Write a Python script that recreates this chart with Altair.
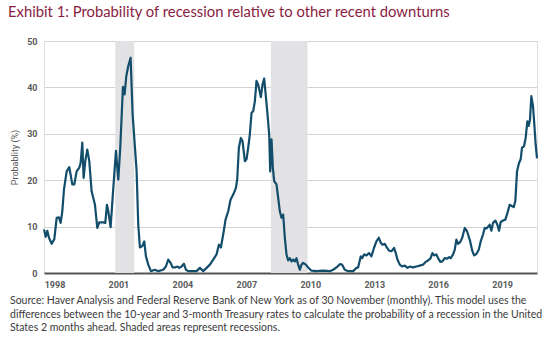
import altair as alt
import pandas as pd

# Time axis position (fractional year) and recession probability (%)
years = [
    1997.508, 1997.586, 1997.664, 1997.742, 1997.867, 1997.992, 1998.102, 1998.211, 1998.289, 1998.367,
    1998.445, 1998.571, 1998.695, 1998.836, 1998.930, 1999.039, 1999.164, 1999.227, 1999.305, 1999.367,
    1999.445, 1999.539, 1999.633, 1999.742, 1999.899, 2000.008, 2000.102, 2000.289, 2000.383, 2000.461,
    2000.524, 2000.633, 2000.727, 2000.883, 2000.993, 2001.086, 2001.211, 2001.290, 2001.368, 2001.461,
    2001.571, 2001.665, 2001.852, 2001.930, 2002.008, 2002.118, 2002.211, 2002.290, 2002.399, 2002.524,
    2002.712, 2002.868, 2003.102, 2003.227, 2003.337, 2003.446, 2003.540, 2003.649, 2003.774, 2003.852,
    2003.962, 2004.071, 2004.165, 2004.274, 2004.509, 2004.665, 2004.821, 2004.977, 2005.134, 2005.290,
    2005.446, 2005.603, 2005.712, 2005.806, 2005.915, 2006.025, 2006.150, 2006.259, 2006.384, 2006.509,
    2006.571, 2006.650, 2006.743, 2006.822, 2006.931, 2007.009, 2007.087, 2007.165, 2007.244, 2007.322,
    2007.400, 2007.478, 2007.556, 2007.681, 2007.759, 2007.837, 2007.915, 2007.994, 2008.072, 2008.119,
    2008.181, 2008.244, 2008.306, 2008.416, 2008.494, 2008.572, 2008.650, 2008.728, 2008.806, 2008.885,
    2008.963, 2009.041, 2009.119, 2009.197, 2009.275, 2009.353, 2009.431, 2009.510, 2009.588, 2009.666,
    2009.791, 2009.900, 2010.057, 2010.291, 2010.604, 2010.916, 2011.072, 2011.229, 2011.385, 2011.494,
    2011.619, 2011.775, 2012.010, 2012.166, 2012.244, 2012.369, 2012.432, 2012.525, 2012.635, 2012.760,
    2012.869, 2012.994, 2013.104, 2013.213, 2013.307, 2013.385, 2013.494, 2013.588, 2013.697, 2013.807,
    2013.932, 2014.010, 2014.088, 2014.198, 2014.307, 2014.432, 2014.557, 2014.682, 2014.823, 2014.979,
    2015.135, 2015.291, 2015.416, 2015.526, 2015.635, 2015.729, 2015.807, 2015.917, 2015.995, 2016.104,
    2016.198, 2016.307, 2016.417, 2016.511, 2016.589, 2016.698, 2016.776, 2016.854, 2016.932, 2017.042,
    2017.136, 2017.245, 2017.354, 2017.480, 2017.605, 2017.683, 2017.792, 2017.902, 2017.995, 2018.105,
    2018.183, 2018.261, 2018.370, 2018.417, 2018.495, 2018.573, 2018.683, 2018.777, 2018.855, 2018.933,
    2019.042, 2019.152, 2019.246, 2019.355, 2019.433, 2019.542, 2019.620, 2019.698, 2019.792, 2019.870,
    2019.933, 2020.026, 2020.104, 2020.183, 2020.245, 2020.308, 2020.370, 2020.448, 2020.511, 2020.573,
    2020.636,
]
prob = [
    9.4, 7.8, 9.1, 7.6, 6.3, 7.3, 11.9, 12.0, 10.8, 13.3,
    18.0, 21.9, 22.8, 19.1, 19.1, 21.9, 22.7, 23.7, 28.1, 20.5,
    24.1, 26.6, 24.1, 17.6, 14.7, 9.7, 10.9, 10.9, 10.8, 14.7,
    13.3, 9.9, 16.2, 26.3, 20.1, 27.0, 40.1, 38.5, 42.4, 44.6,
    46.4, 34.2, 22.0, 10.4, 5.5, 5.8, 6.8, 3.6, 1.8, 0.4,
    0.7, 0.4, 0.7, 1.4, 2.9, 2.2, 1.2, 1.2, 1.4, 1.1,
    1.4, 2.0, 0.7, 0.4, 0.4, 0.4, 1.1, 0.4, 1.1, 1.8,
    2.9, 4.0, 6.1, 5.5, 8.3, 11.5, 13.3, 15.8, 16.9, 18.3,
    20.1, 27.0, 29.1, 28.4, 24.1, 24.5, 27.0, 29.9, 34.5, 34.9,
    37.0, 41.4, 40.6, 37.9, 40.6, 41.9, 38.1, 34.2, 29.9, 21.9,
    28.8, 22.7, 19.8, 19.1, 16.2, 13.3, 11.9, 12.6, 7.6, 4.0,
    2.7, 3.2, 2.5, 2.9, 2.5, 3.2, 1.8, 0.7, 1.8, 2.2,
    1.8, 1.2, 0.5, 0.4, 0.5, 0.4, 0.7, 1.2, 1.9, 1.8,
    0.7, 0.4, 0.4, 1.1, 1.2, 3.6, 3.2, 4.0, 3.8, 4.3,
    3.6, 5.5, 6.8, 7.6, 6.5, 6.1, 6.3, 5.5, 4.8, 4.7,
    5.4, 4.3, 2.9, 1.8, 1.4, 1.6, 1.1, 1.4, 1.2, 1.4,
    1.6, 1.8, 2.4, 2.7, 3.1, 4.3, 3.8, 4.0, 3.2, 2.4,
    2.5, 3.2, 3.1, 3.4, 3.2, 4.0, 5.0, 7.2, 6.3, 6.7,
    7.7, 9.7, 9.0, 7.2, 4.7, 3.8, 4.1, 5.0, 6.8, 8.3,
    9.7, 9.6, 10.1, 10.4, 9.1, 10.8, 11.3, 10.4, 9.1, 11.0,
    11.3, 11.5, 12.9, 14.7, 14.5, 14.2, 15.5, 21.9, 23.7, 24.5,
    27.0, 27.3, 29.1, 32.7, 31.7, 33.1, 38.1, 36.0, 32.0, 27.7,
    24.7,
]

# Shaded recessions (same time axis)
rec_start = [2000.850, 2008.150]
rec_end = [2001.741, 2009.871]

x_tick_years = [1998, 2001, 2004, 2007, 2010, 2013, 2016, 2019]
y_ticks = [0, 10, 20, 30, 40, 50]

title_text = "Exhibit 1: Probability of recession relative to other recent downturns"
y_title = "Probablity (%)"
footer_lines = [
    "Source: Haver Analysis and Federal Reserve Bank of New York as of 30 November (monthly). This model uses the",
    "differences between the 10-year and 3-month Treasury rates to calculate the probability of a recession in the United",
    "States 2 months ahead. Shaded areas represent recessions.",
]

df = pd.DataFrame({"year": years, "prob": prob})
rec = pd.DataFrame({"start": rec_start, "end": rec_end})
one = pd.DataFrame({"k": [0]})

LINE = "#124d6b"
AXIS_FONT = "Roboto"
TEXT_FONT = "Lato"

xscale = alt.Scale(domain=[1997.508, 2020.636], nice=False, zero=False)
yscale = alt.Scale(domain=[0, 50], nice=False, zero=True)

x_axis = alt.Axis(
    values=x_tick_years, format="d", title=None, grid=False, ticks=False,
    domain=True, domainColor="#555555", domainWidth=2,
    labelFont=AXIS_FONT, labelFontSize=9, labelFontWeight="bold", labelColor="#5a5a5a",
    labelPadding=7, labelFlush=False,
)

bands = alt.Chart(rec).mark_rect(color="#e2e2e4").encode(
    x=alt.X("start:Q", scale=xscale, axis=x_axis),
    x2="end:Q",
)

line = alt.Chart(df).mark_line(color=LINE, strokeWidth=2.2, strokeJoin="round").encode(
    x=alt.X("year:Q", scale=xscale, axis=x_axis),
    y=alt.Y(
        "prob:Q",
        scale=yscale,
        axis=alt.Axis(
            values=y_ticks, title=y_title, grid=True, gridColor="#d3d3d3", gridWidth=1,
            ticks=False, domain=False,
            labelFont=AXIS_FONT, labelFontSize=9, labelFontWeight="bold", labelColor="#5a5a5a",
            labelPadding=7,
            titleFont=AXIS_FONT, titleFontSize=9, titleFontWeight="normal", titleColor="#5a5a5a",
            titlePadding=7,
        ),
    ),
)

title = alt.Chart(one).mark_text(
    text=title_text, align="left", baseline="alphabetic", font=TEXT_FONT, fontSize=14.8,
    color="#8a1c3f",
).encode(x=alt.value(-36), y=alt.value(-24))

footer = alt.Chart(one).mark_text(
    text=footer_lines, align="left", baseline="top", font=TEXT_FONT, fontSize=10.5,
    lineHeight=13.5, color="#3a3a3a",
).encode(x=alt.value(-34), y=alt.value(255))

chart = alt.layer(bands, line, title, footer).properties(
    width=493,
    height=232,
    padding={"left": 44, "top": 41, "right": 18, "bottom": 70},
    autosize=alt.AutoSizeParams(type="none"),
).configure_view(stroke=None).configure(background="white")

chart.save("out.html", embed_options={"renderer": "svg", "actions": False})
